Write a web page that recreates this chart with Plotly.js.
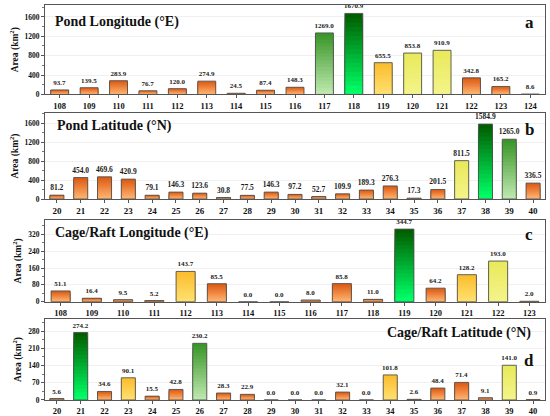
<!DOCTYPE html>
<html>
<head>
<meta charset="utf-8">
<script src="https://cdn.plot.ly/plotly-3.0.1.min.js"></script>
<style>html,body{margin:0;padding:0;background:#fff;}#chart{width:550px;height:416px;}</style>
</head>
<body>
<div id="chart"></div>
<script>
// ---- data ----
const pondLonCats = ["108","109","110","111","112","113","114","115","116","117","118","119","120","121","122","123","124"];
const pondLonArea = [93.7,139.5,283.9,76.7,120.0,274.9,24.5,87.4,148.3,1269.0,1670.9,655.5,853.8,910.9,342.8,165.2,8.6];

const pondLatCats = ["20","21","22","23","24","25","26","27","28","29","30","31","32","33","34","35","36","37","38","39","40"];
const pondLatArea = [81.2,454.0,469.6,420.9,79.1,146.3,123.6,30.8,77.5,146.3,97.2,52.7,109.9,189.3,276.3,17.3,201.5,811.5,1584.9,1265.0,336.5];

const cageLonCats = ["108","109","110","111","112","113","114","115","116","117","118","119","120","121","122","123"];
const cageLonArea = [51.1,16.4,9.5,5.2,143.7,85.5,0.0,0.0,8.0,85.8,11.0,344.7,64.2,128.2,193.0,2.0];

const cageLatCats = ["20","21","22","23","24","25","26","27","28","29","30","31","32","33","34","35","36","37","38","39","40"];
const cageLatArea = [5.6,274.2,34.6,90.1,15.5,42.8,230.2,28.3,22.9,0.0,0.0,0.0,32.1,0.0,101.8,2.6,48.4,71.4,9.1,141.0,0.9];

const panelTitles = ["Pond Longitude (°E)","Pond Latitude (°N)","Cage/Raft Longitude (°E)","Cage/Raft Latitude (°N)"];
const panelLetters = ["a","b","c","d"];

// ---- styles ----
const SERIF = "Liberation Serif, Times New Roman, serif";
const palettes = {
  dg: ["#005f00", "#00ff66"],
  lg: ["#3a9628", "#bde8ad"],
  y:  ["#e9e95c", "#f4f48a"],
  yo: ["#fbbd2e", "#ffe070"],
  o:  ["#dd5a12", "#ffb572"]
};
function hex2rgb(h){return [parseInt(h.substr(1,2),16),parseInt(h.substr(3,2),16),parseInt(h.substr(5,2),16)];}
function mix(a,b,t){const A=hex2rgb(a),B=hex2rgb(b);return "rgb("+A.map((v,i)=>Math.round(v+(B[i]-v)*t)).join(",")+")";}

const panels = [
  {cats:pondLonCats, vals:pondLonArea, dom:[0.778,1.0], yr:[0,1845], dt:400, w:0.61,
   cls:v=>v>1500?"dg":v>1000?"lg":v>800?"y":v>500?"yo":"o",
   tx:0.015, ty:0.81, tanchor:"left", ly:0.80, xfs:8.5, tfs:7},
  {cats:pondLatCats, vals:pondLatArea, dom:[0.5186,0.732], yr:[0,1820], dt:400, w:0.59,
   cls:v=>v>1500?"dg":v>1000?"lg":v>800?"y":"o",
   tx:0.02, ty:0.85, tanchor:"left", ly:0.81, xfs:9, tfs:7.5},
  {cats:cageLonCats, vals:cageLonArea, dom:[0.2638,0.4665], yr:[0,388], dt:80, w:0.61,
   cls:v=>v>300?"dg":v>180?"y":v>100?"yo":"o",
   tx:0.015, ty:0.84, tanchor:"left", ly:0.82, xfs:8.5, tfs:7},
  {cats:cageLatCats, vals:cageLatArea, dom:[0.0199,0.2208], yr:[0,329], dt:70, w:0.59,
   cls:v=>v>250?"dg":v>200?"lg":v>120?"y":v>85?"yo":"o",
   tx:0.976, ty:0.83, tanchor:"right", ly:0.49, xfs:8.5, tfs:7}
];

const N = 18;
const traces = [];
const layout = {
  width:550, height:416,
  margin:{l:45, r:5, t:5, b:8},
  paper_bgcolor:"#fff", plot_bgcolor:"#fff",
  barmode:"overlay", showlegend:false,
  font:{family:SERIF, color:"#111"},
  annotations:[]
};

panels.forEach((p,i)=>{
  const xa = "x"+(i===0?"":i+1), ya = "y"+(i===0?"":i+1);
  const classes = p.vals.map(p.cls);
  for(let k=0;k<N;k++){
    const t = k/(N-1);
    traces.push({
      type:"bar", x:p.cats, y:p.vals.map(v=>v*(N-k)/N),
      xaxis:xa, yaxis:ya, width:p.w,
      marker:{color:classes.map(c=>mix(palettes[c][0],palettes[c][1],t)), line:{width:0}},
      hoverinfo:"skip"
    });
  }
  traces.push({
    type:"bar", x:p.cats, y:p.vals, xaxis:xa, yaxis:ya, width:p.w,
    marker:{color:"rgba(0,0,0,0)", line:{width:0.9, color:"#505050"}},
    text:p.vals.map(v=>v.toFixed(1)), textposition:"outside", cliponaxis:false,
    constraintext:"none",
    textfont:{family:SERIF, size:p.tfs, color:"#1a1a1a", weight:"bold"},
    hoverinfo:"skip"
  });
  const xk = "xaxis"+(i===0?"":i+1), yk = "yaxis"+(i===0?"":i+1);
  layout[xk] = {
    type:"category", anchor:ya, domain:[0,1],
    showline:true, mirror:true, linecolor:"#555", linewidth:1,
    ticks:"outside", ticklen:3, tickcolor:"#555",
    tickfont:{family:SERIF, size:p.xfs, color:"#111", weight:"bold"},
    showgrid:false, zeroline:false, fixedrange:true
  };
  layout[yk] = {
    anchor:xa, domain:p.dom, range:p.yr, dtick:p.dt, tick0:0,
    showline:true, mirror:true, linecolor:"#555", linewidth:1,
    ticks:"outside", ticklen:3, tickcolor:"#555",
    minor:{ticks:"outside", ticklen:2, dtick:p.dt/2, tickcolor:"#777", showgrid:false},
    tickfont:{family:SERIF, size:7.5, color:"#111", weight:"bold"},
    showgrid:true, gridcolor:"#f0f0f0", gridwidth:1, zeroline:false,
    title:{text:"Area (km<sup>2</sup>)", font:{family:SERIF, size:9.5, color:"#111", weight:"bold"}, standoff:4},
    fixedrange:true
  };
  layout.annotations.push({
    xref:xa+" domain", yref:ya+" domain", x:p.tx, y:p.ty, xanchor:p.tanchor, yanchor:"middle",
    text:panelTitles[i], showarrow:false,
    font:{family:SERIF, size:14, color:"#111", weight:"bold"}
  });
  layout.annotations.push({
    xref:xa+" domain", yref:ya+" domain", x:0.968, y:p.ly, xanchor:"center", yanchor:"middle",
    text:panelLetters[i], showarrow:false,
    font:{family:SERIF, size:17, color:"#111", weight:"bold"}
  });
});

Plotly.newPlot("chart", traces, layout, {displayModeBar:false, staticPlot:true});
</script>
</body>
</html>
